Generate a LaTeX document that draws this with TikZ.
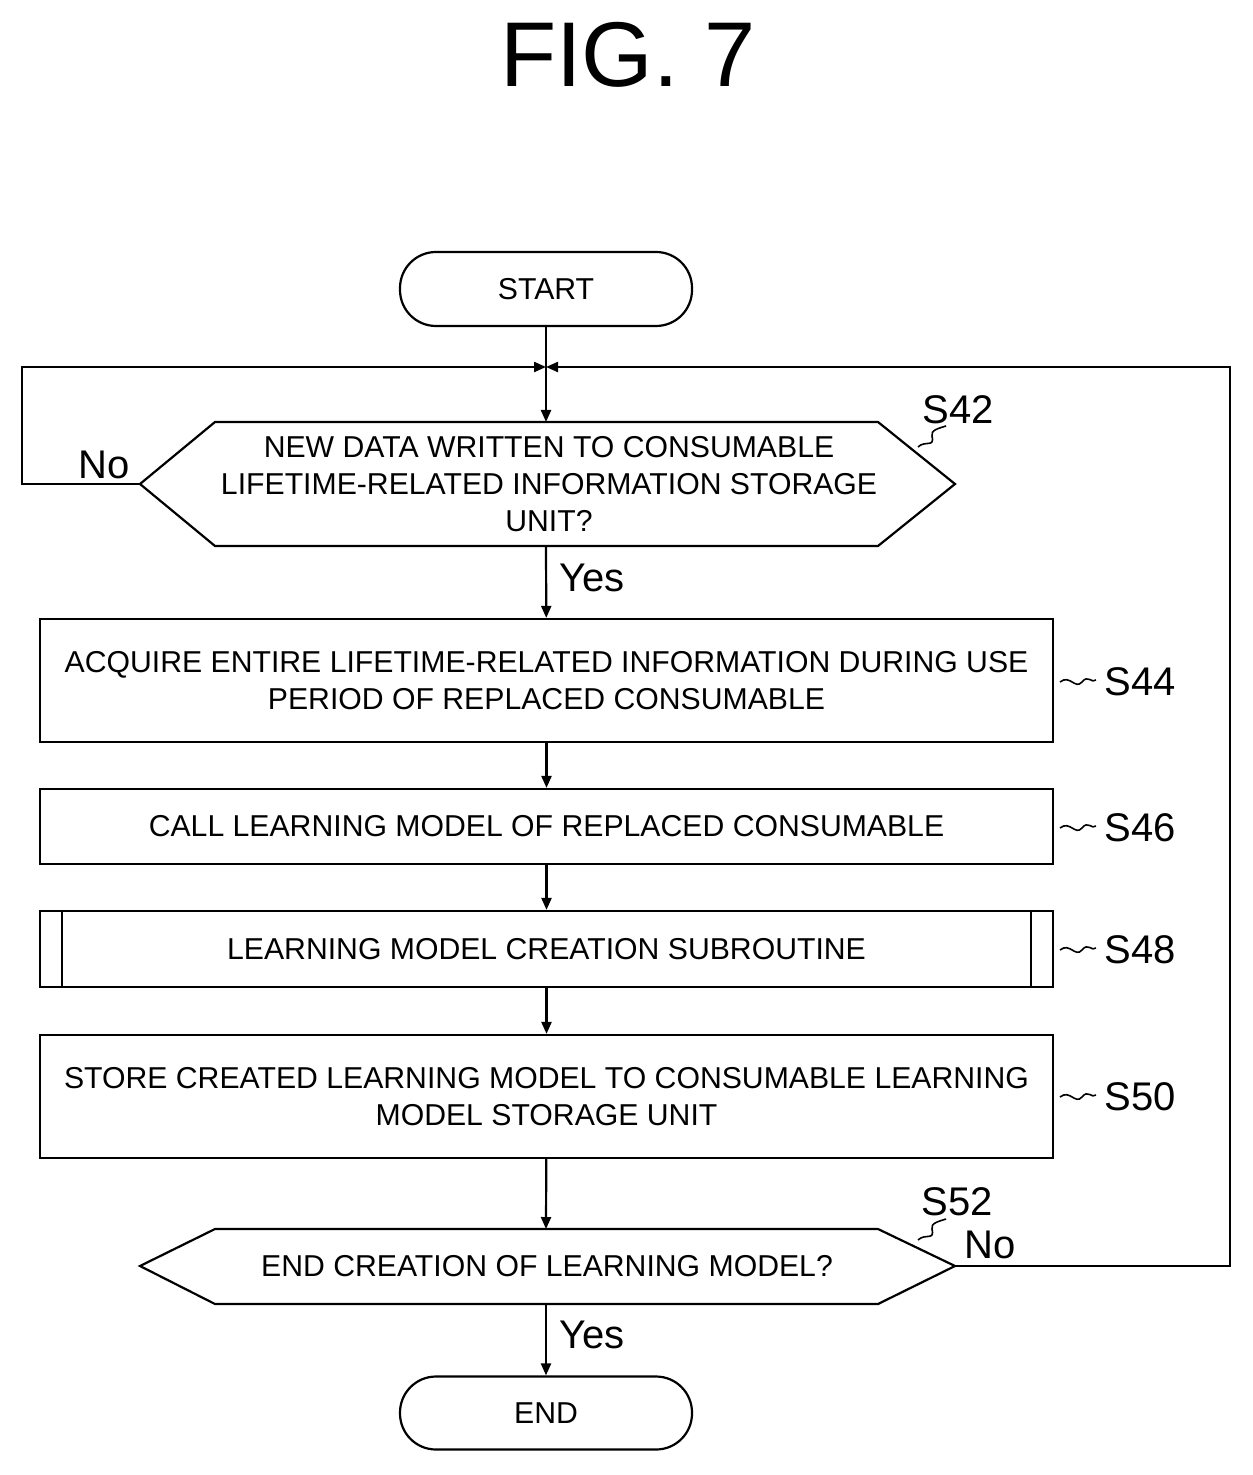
\documentclass[tikz,border=0pt]{standalone}
\usepackage{fontspec}
\setmainfont{Liberation Sans}
\usetikzlibrary{arrows.meta}
\begin{document}
\begin{tikzpicture}[x=0.5pt,y=-0.5pt,
  line width=1.1pt,
  txt/.style={font=\fontsize{15.1}{18.5}\selectfont, align=center},
  lab/.style={font=\fontsize{20}{22}\selectfont},
  arr/.style={-{Triangle[length=6pt,width=5pt]}},
  box/.style={draw, rectangle, minimum width=506.5pt, txt}]
\useasboundingbox (0,0) rectangle (1252,1475);
\node[font=\fontsize{46}{50}\selectfont] (title) at (628,55) {FIG. 7};
\node[draw, rounded corners=18pt, minimum width=146pt, minimum height=37pt, txt] (start) at (546,289) {START};
\coordinate (m) at (546,367);
\draw[fill=white] (140,484) -- (215,422) -- (878,422) -- (955,484) -- (878,546) -- (215,546) -- cycle;
\node[txt] (s42) at (549,484) {NEW DATA WRITTEN TO CONSUMABLE\\LIFETIME-RELATED INFORMATION STORAGE\\UNIT?};
\coordinate (s42w) at (140,484); \coordinate (s42e) at (955,484);
\coordinate (s42t) at (546,422); \coordinate (s42b) at (546,546);
\node[box, minimum height=61.5pt] (s44) at (546.5,680.5) {ACQUIRE ENTIRE LIFETIME-RELATED INFORMATION DURING USE\\PERIOD OF REPLACED CONSUMABLE};
\node[box, minimum height=37.5pt] (s46) at (546.5,826.5) {CALL LEARNING MODEL OF REPLACED CONSUMABLE};
\node[box, minimum height=38pt] (s48) at (546.5,949) {LEARNING MODEL CREATION SUBROUTINE};
\draw (62,911) -- (62,987) (1031,911) -- (1031,987);
\node[box, minimum height=61.5pt] (s50) at (546.5,1096.5) {STORE CREATED LEARNING MODEL TO CONSUMABLE LEARNING\\MODEL STORAGE UNIT};
\draw (140,1266) -- (215,1229) -- (878,1229) -- (955,1266) -- (878,1304) -- (215,1304) -- cycle;
\node[txt] (s52) at (547,1266) {END CREATION OF LEARNING MODEL?};
\coordinate (s52t) at (546,1229); \coordinate (s52b) at (546,1304);
\coordinate (s52e) at (955,1266);
\node[draw, rounded corners=18pt, minimum width=146pt, minimum height=36.5pt, txt] (end) at (546,1413) {END};
% connectors
\draw (start) -- (m);
\draw[arr] (m) -- (s42t);
\draw[arr] (s42w) -- (22,484) -- (22,367) -- (m);
\draw[arr] (s52e) -- (1230,1266) -- (1230,367) -- (m);
\draw[arr] (s42b) -- (s44);
\draw[arr] (s44) -- (s46);
\draw[arr] (s46) -- (s48);
\draw[arr] (s48) -- (s50);
\draw[arr] (s50) -- (s52t);
\draw[arr] (s52b) -- (end);
\node[lab] (no1) at (104,465) {No};
\node[lab] (yes1) at (592,578) {Yes};
\node[lab] (no2) at (990,1245) {No};
\node[lab] (yes2) at (592,1335) {Yes};
% step labels
\node[lab] (l42) at (958,410) {S42};
\node[lab] (l44) at (1140,682) {S44};
\node[lab] (l46) at (1140,828) {S46};
\node[lab] (l48) at (1140,950) {S48};
\node[lab] (l50) at (1140,1097) {S50};
\node[lab] (l52) at (957,1202) {S52};
\tikzset{sq/.style={line width=0.8pt}}
\foreach \y in {682,828,950,1097}
  \draw[sq] (1060,\y) .. controls (1070,\y-8) and (1075,\y+8) .. (1082,\y) .. controls (1088,\y-8) and (1092,\y+2) .. (1096,\y-2);
\draw[sq] (918,447) .. controls (925,440) and (935,448) .. (932,436) .. controls (930,430) and (940,428) .. (946,426);
\draw[sq] (918,1240) .. controls (925,1233) and (935,1241) .. (932,1229) .. controls (930,1223) and (940,1221) .. (946,1219);
\end{tikzpicture}
\end{document}
